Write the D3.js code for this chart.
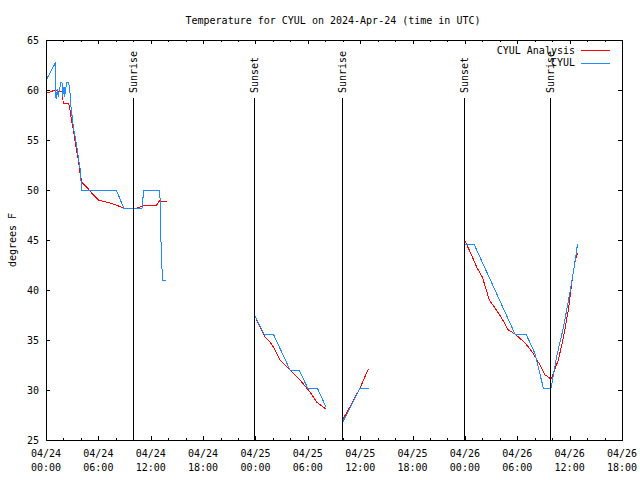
<!DOCTYPE html>
<html><head><meta charset="utf-8">
<script src="https://cdn.jsdelivr.net/npm/d3@7"></script>
<style>
body{margin:0;background:#fff;}
text{font-family:"DejaVu Sans Mono","Liberation Mono",monospace;font-size:10px;fill:#000;}
</style></head><body>
<svg id="c" width="640" height="480"></svg>
<script>
// Hours since 2024-04-24 00:00 UTC; null = gap between segments
const analysisHours = [0.08,0.45,1.03,1.4,1.85,1.98,2.56,2.7,2.83,3.13,3.44,3.7,3.9,4.09,4.66,5.23,6.0,7.33,8.94,10.0,11.15,12.68,13.0,13.83,
  null,
  23.95,24.5,25.1,25.67,26.05,26.8,27.4,28.3,29.3,30.25,31.0,31.6,32.08,
  null,
  33.95,34.45,35.98,36.93,
  null,
  47.9,48.6,49.4,50.0,50.8,51.45,52.2,52.97,53.74,54.9,55.8,56.6,57.2,57.87,58.2,58.7,59.3,59.85,60.24,60.6,60.9];
const analysisTemps = [59.7,59.8,60.0,59.9,59.8,58.7,58.7,58.3,57.5,56.0,54.3,53.0,51.7,50.8,50.3,49.7,49.0,48.7,48.2,48.1,48.4,48.5,48.9,48.8,
  null,
  37.4,36.3,35.3,34.8,34.3,33.0,32.5,31.7,30.8,29.8,28.8,28.4,28.1,
  null,
  27.0,27.7,30.2,32.1,
  null,
  45.1,43.8,42.2,41.3,39.0,38.2,37.2,36.0,35.6,34.7,33.7,32.5,31.5,31.1,31.8,33.0,35.3,38.0,40.7,42.8,43.7];

const obsHours = [0.08,1.07,1.15,1.3,1.4,1.68,1.83,1.9,2.06,2.14,2.37,2.6,2.75,2.83,3.13,3.5,3.7,3.9,4.09,8.06,8.9,11.0,11.2,13.0,13.1,13.2,13.3,13.4,13.8,
  null,
  23.95,24.98,26.05,27.96,29.0,29.98,31.09,32.08,
  null,
  33.95,35.98,37.0,
  null,
  47.9,49.04,53.74,55.0,56.0,56.99,57.87,58.5,59.3,60.04,60.6,60.9];
const obsTemps = [61.1,62.7,59.1,60.1,59.3,60.7,60.8,59.3,60.3,59.3,60.8,60.8,59.7,58.6,56.3,54.5,53.3,52.2,50.0,50.0,48.2,48.2,50.0,50.0,48.8,43.8,42.0,41.0,41.0,
  null,
  37.4,35.6,35.6,32.0,32.0,30.2,30.2,28.3,
  null,
  26.7,30.2,30.2,
  null,
  44.6,44.6,35.6,35.6,33.7,30.2,30.2,33.3,36.3,39.8,42.7,44.6];

const sunHours = [10.0,23.8,33.95,47.85,57.8];
const sunLabels = ["Sunrise","Sunset","Sunrise","Sunset","Sunrise"];

const yTicks = [25,30,35,40,45,50,55,60,65];
const xTickDates = ["04/24","04/24","04/24","04/24","04/25","04/25","04/25","04/25","04/26","04/26","04/26","04/26"];
const xTickTimes = ["00:00","06:00","12:00","18:00","00:00","06:00","12:00","18:00","00:00","06:00","12:00","18:00"];

const titleText = "Temperature for CYUL on 2024-Apr-24 (time in UTC)";
const seriesNames = ["CYUL Analysis","CYUL"];
const seriesColors = ["#ff0000","#1e8cff"];

const L=46,R=622,T=40,B=440;
const x = d3.scaleLinear().domain([0,66]).range([L,R]);
const y = d3.scaleLinear().domain([25,65]).range([B,T]);
const svg = d3.select("#c");

// series
function series(hours,temps){ return hours.map((h,i)=>({h:h,t:temps[i]})); }
const line = d3.line().defined(d=>d.h!==null&&d.t!==null).x(d=>x(d.h)).y(d=>y(d.t));
[[analysisHours,analysisTemps],[obsHours,obsTemps]].forEach((s,i)=>{
  svg.append("path").datum(series(s[0],s[1])).attr("d",line)
    .attr("fill","none").attr("stroke",seriesColors[i]).attr("stroke-width",1)
    .attr("shape-rendering","crispEdges");
});

// sun lines
sunHours.forEach((h,i)=>{
  const xx = Math.round(x(h))+0.5;
  svg.append("line").attr("x1",xx).attr("x2",xx).attr("y1",98).attr("y2",B)
    .attr("stroke","#000").attr("stroke-width",1).attr("shape-rendering","crispEdges");
  svg.append("text").attr("transform",`translate(${xx},93) rotate(-90)`)
    .attr("dy","0.35em").attr("text-anchor","start").text(sunLabels[i]);
});

// border
svg.append("rect").attr("x",L+0.5).attr("y",T+0.5).attr("width",R-L).attr("height",B-T)
  .attr("fill","none").attr("stroke","#000").attr("stroke-width",1).attr("shape-rendering","crispEdges");

// x ticks
const g = svg.append("g").attr("shape-rendering","crispEdges");
d3.range(0,67,2).forEach(h=>{
  const len = (h%6===0)?4:2;
  const xx = Math.round(x(h))+0.5;
  g.append("line").attr("x1",xx).attr("x2",xx).attr("y1",B).attr("y2",B-len).attr("stroke","#000");
  g.append("line").attr("x1",xx).attr("x2",xx).attr("y1",T).attr("y2",T+len).attr("stroke","#000");
});
xTickDates.forEach((d,i)=>{
  const xx = x(i*6);
  svg.append("text").attr("x",xx).attr("y",457).attr("text-anchor","middle").text(d);
  svg.append("text").attr("x",xx).attr("y",471).attr("text-anchor","middle").text(xTickTimes[i]);
});
// y ticks
yTicks.forEach(v=>{
  const yy = Math.round(y(v))+0.5;
  g.append("line").attr("x1",L).attr("x2",L+4).attr("y1",yy).attr("y2",yy).attr("stroke","#000");
  g.append("line").attr("x1",R-4).attr("x2",R).attr("y1",yy).attr("y2",yy).attr("stroke","#000");
  svg.append("text").attr("x",39).attr("y",y(v)).attr("dy","0.35em").attr("text-anchor","end").text(v);
});

// title & axis label
svg.append("text").attr("x",333).attr("y",24).attr("text-anchor","middle").text(titleText);
svg.append("text").attr("transform","translate(12,240) rotate(-90)").attr("dy","0.35em")
  .attr("text-anchor","middle").text("degrees F");

// legend
seriesNames.forEach((n,i)=>{
  const yy = 50+i*12.5;
  svg.append("text").attr("x",575).attr("y",yy).attr("dy","0.35em").attr("text-anchor","end").text(n);
  svg.append("line").attr("x1",581).attr("x2",610).attr("y1",Math.round(yy)+0.5).attr("y2",Math.round(yy)+0.5)
    .attr("stroke",seriesColors[i]).attr("stroke-width",1).attr("shape-rendering","crispEdges");
});
</script></body></html>
